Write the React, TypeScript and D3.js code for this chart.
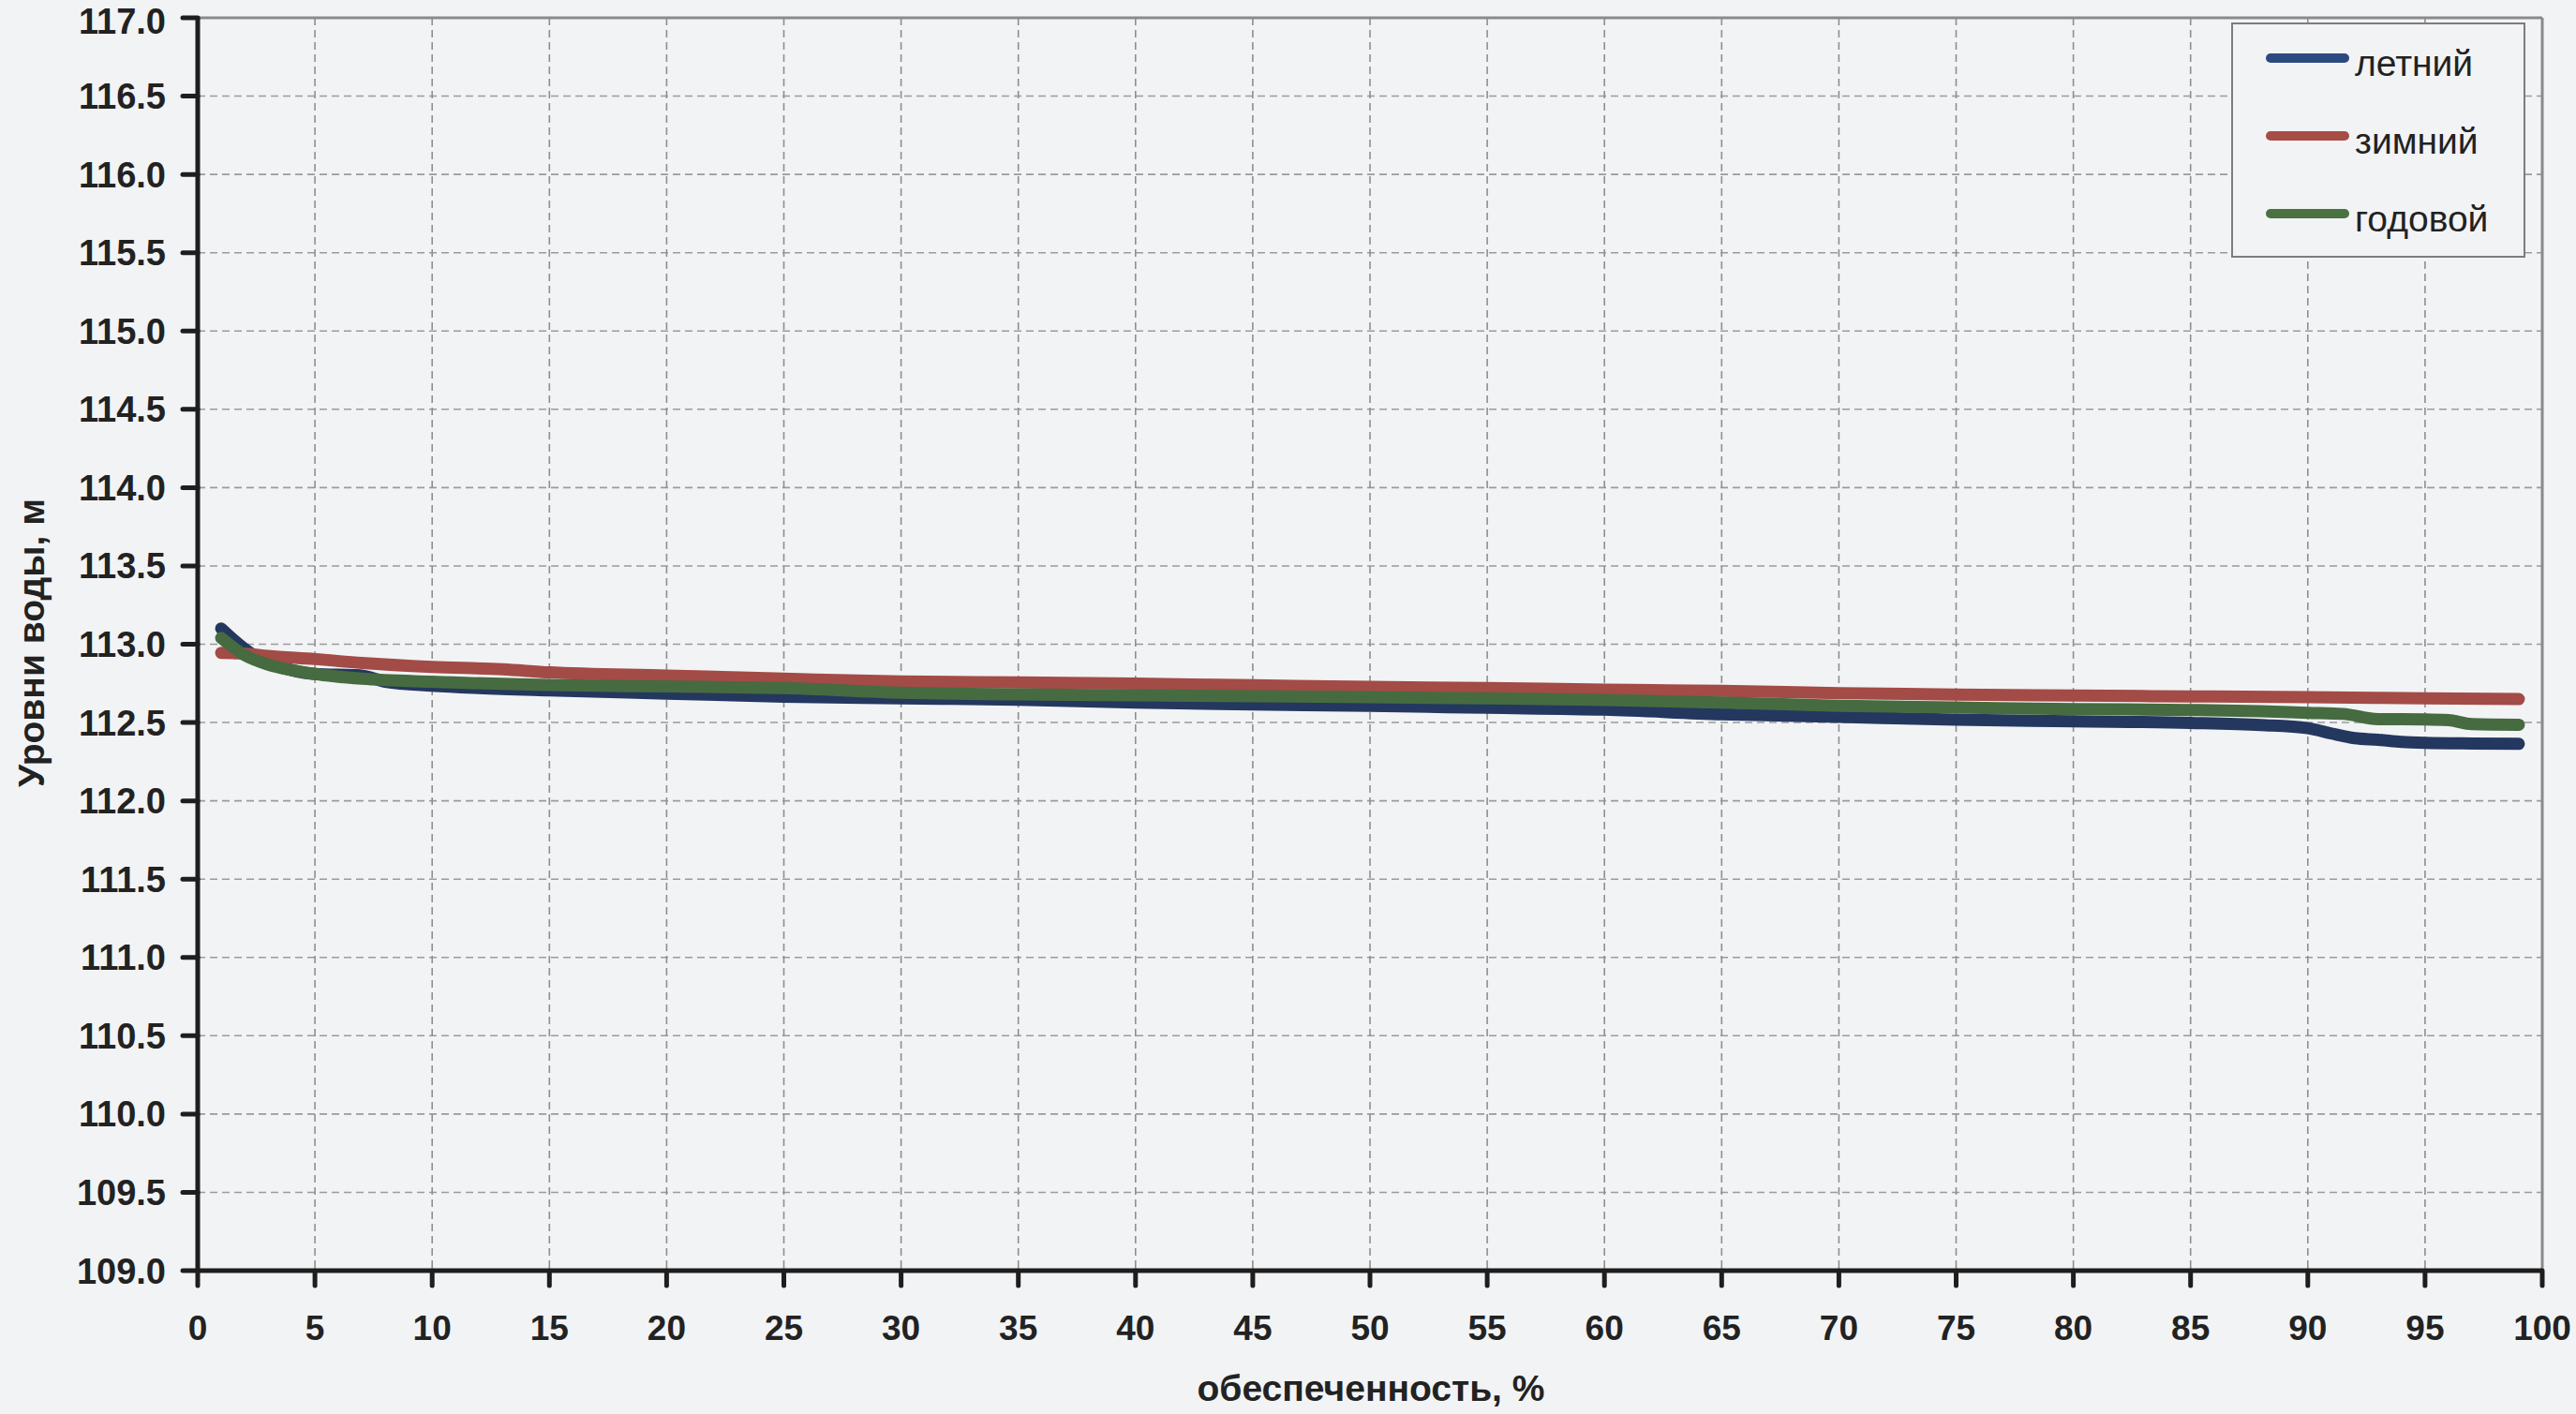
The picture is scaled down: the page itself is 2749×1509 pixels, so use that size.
import React from "react";
import * as d3 from "d3";

// ---- data ----
const summerX = [1, 2, 3, 4, 5, 7, 8, 10, 12, 15, 20, 25, 30, 35, 40, 45, 50, 55, 60, 65, 70, 75, 80, 85, 88, 90, 91, 92, 93, 94, 95, 97, 99];
const summerY = [113.1, 112.97, 112.88, 112.835, 112.81, 112.8, 112.76, 112.735, 112.72, 112.705, 112.685, 112.665, 112.655, 112.645, 112.627, 112.616, 112.606, 112.594, 112.582, 112.553, 112.536, 112.518, 112.508, 112.498, 112.484, 112.464, 112.43, 112.4, 112.39, 112.376, 112.37, 112.366, 112.364];

const winterX = [1, 2, 3, 5, 7, 10, 13, 15, 20, 25, 30, 35, 40, 45, 50, 55, 60, 65, 70, 75, 80, 85, 90, 95, 99];
const winterY = [112.945, 112.94, 112.925, 112.905, 112.88, 112.855, 112.84, 112.82, 112.8, 112.78, 112.762, 112.756, 112.748, 112.738, 112.728, 112.72, 112.71, 112.702, 112.688, 112.678, 112.672, 112.667, 112.662, 112.655, 112.65];

const annualX = [1, 2, 3, 4, 5, 7, 10, 15, 20, 25, 30, 35, 40, 45, 50, 55, 60, 65, 70, 75, 80, 85, 88, 90, 91.5, 93, 95, 96, 97, 99];
const annualY = [113.04, 112.93, 112.87, 112.835, 112.81, 112.78, 112.76, 112.74, 112.73, 112.72, 112.69, 112.68, 112.674, 112.668, 112.662, 112.654, 112.644, 112.628, 112.606, 112.596, 112.586, 112.58, 112.572, 112.562, 112.555, 112.522, 112.52, 112.515, 112.49, 112.486];

const seriesNames = ["летний", "зимний", "годовой"];
const seriesColors = ["#24375f", "#a34b46", "#466b40"];
const legendColors = ["#2d4a80", "#a84c46", "#4a7240"];

const yTicks = d3.range(109, 117.0001, 0.5);
const xTicks = d3.range(0, 100.0001, 5);

const yTitle = "Уровни воды, м";
const xTitle = "обеспеченность, %";

// ---- layout ----
const W = 2749;
const H = 1509;
const L = 211;
const R = 2713;
const T = 19;
const B = 1356;
const FONT = "'Liberation Sans', Arial, Helvetica, sans-serif";

export default function App() {
  const x = d3.scaleLinear().domain([0, 100]).range([L, R]);
  const y = d3.scaleLinear().domain([109, 117]).range([B, T]);

  const line = d3
    .line<[number, number]>()
    .x((d) => x(d[0]))
    .y((d) => y(d[1]))
    .curve(d3.curveMonotoneX);

  const series = [
    { xs: summerX, ys: summerY },
    { xs: winterX, ys: winterY },
    { xs: annualX, ys: annualY },
  ];

  const legendX0 = 2382;
  const legendY0 = 25;
  const legendW = 312;
  const legendH = 249;
  const legendRows = [62, 145, 228];

  return (
    <svg
      width={W}
      height={H}
      style={{ position: "absolute", left: 0, top: 0, display: "block" }}
      xmlns="http://www.w3.org/2000/svg"
    >
      <rect x={0} y={0} width={W} height={H} fill="#f2f3f5" />

      {/* grid */}
      {yTicks
        .filter((v) => v > 109.001 && v < 116.999)
        .map((v) => (
          <line
            key={"gy" + v}
            x1={L}
            x2={R}
            y1={y(v)}
            y2={y(v)}
            stroke="#9b9b9b"
            strokeWidth={1.6}
            strokeDasharray="8 5"
          />
        ))}
      {xTicks
        .filter((v) => v > 0.001 && v < 99.999)
        .map((v) => (
          <line
            key={"gx" + v}
            x1={x(v)}
            x2={x(v)}
            y1={T}
            y2={B}
            stroke="#8f8f8f"
            strokeWidth={1.6}
            strokeDasharray="8 5"
          />
        ))}

      {/* plot border top/right */}
      <line x1={L} x2={R} y1={T} y2={T} stroke="#8a8a8a" strokeWidth={3} />
      <line x1={R} x2={R} y1={T} y2={B} stroke="#8a8a8a" strokeWidth={3} />

      {/* series */}
      {series.map((s, i) => (
        <path
          key={"s" + i}
          d={line(s.xs.map((xv, j) => [xv, s.ys[j]] as [number, number])) || ""}
          fill="none"
          stroke={seriesColors[i]}
          strokeWidth={13}
          strokeLinecap="round"
          strokeLinejoin="round"
        />
      ))}

      {/* axes */}
      <line x1={L} x2={L} y1={T} y2={B} stroke="#1e1e1e" strokeWidth={5} />
      <line x1={L} x2={R} y1={B} y2={B} stroke="#1e1e1e" strokeWidth={5} />
      {yTicks.map((v) => (
        <g key={"yt" + v}>
          <line
            x1={L - 16}
            x2={L}
            y1={y(v)}
            y2={y(v)}
            stroke="#1e1e1e"
            strokeWidth={5}
            strokeLinecap="round"
          />
          <text
            x={177}
            y={Math.max(y(v) + 13.5, 36)}
            textAnchor="end"
            fontFamily={FONT}
            fontWeight="bold"
            fontSize={38}
            fill="#222"
          >
            {v.toFixed(1)}
          </text>
        </g>
      ))}
      {xTicks.map((v) => (
        <g key={"xt" + v}>
          <line
            x1={x(v)}
            x2={x(v)}
            y1={B}
            y2={B + 16}
            stroke="#1e1e1e"
            strokeWidth={5}
            strokeLinecap="round"
          />
          <text
            x={x(v)}
            y={B + 74}
            textAnchor="middle"
            fontFamily={FONT}
            fontWeight="bold"
            fontSize={37}
            fill="#222"
          >
            {String(v)}
          </text>
        </g>
      ))}

      {/* axis titles */}
      <text
        transform={`translate(47,686) rotate(-90)`}
        textAnchor="middle"
        fontFamily={FONT}
        fontWeight="bold"
        fontSize={39}
        fill="#222"
      >
        {yTitle}
      </text>
      <text
        x={1463}
        y={1495}
        textAnchor="middle"
        fontFamily={FONT}
        fontWeight="bold"
        fontSize={39}
        fill="#222"
      >
        {xTitle}
      </text>

      {/* legend */}
      <rect
        x={legendX0}
        y={legendY0}
        width={legendW}
        height={legendH}
        fill="#f2f3f5"
        stroke="#7d7d7d"
        strokeWidth={2}
      />
      {seriesNames.map((n, i) => (
        <g key={"lg" + i}>
          <line
            x1={2423}
            x2={2502}
            y1={legendRows[i]}
            y2={legendRows[i]}
            stroke={legendColors[i]}
            strokeWidth={10}
            strokeLinecap="round"
          />
          <text
            x={2513}
            y={legendRows[i] + 19}
            fontFamily={FONT}
            fontSize={39}
            fill="#222"
          >
            {n}
          </text>
        </g>
      ))}
    </svg>
  );
}
